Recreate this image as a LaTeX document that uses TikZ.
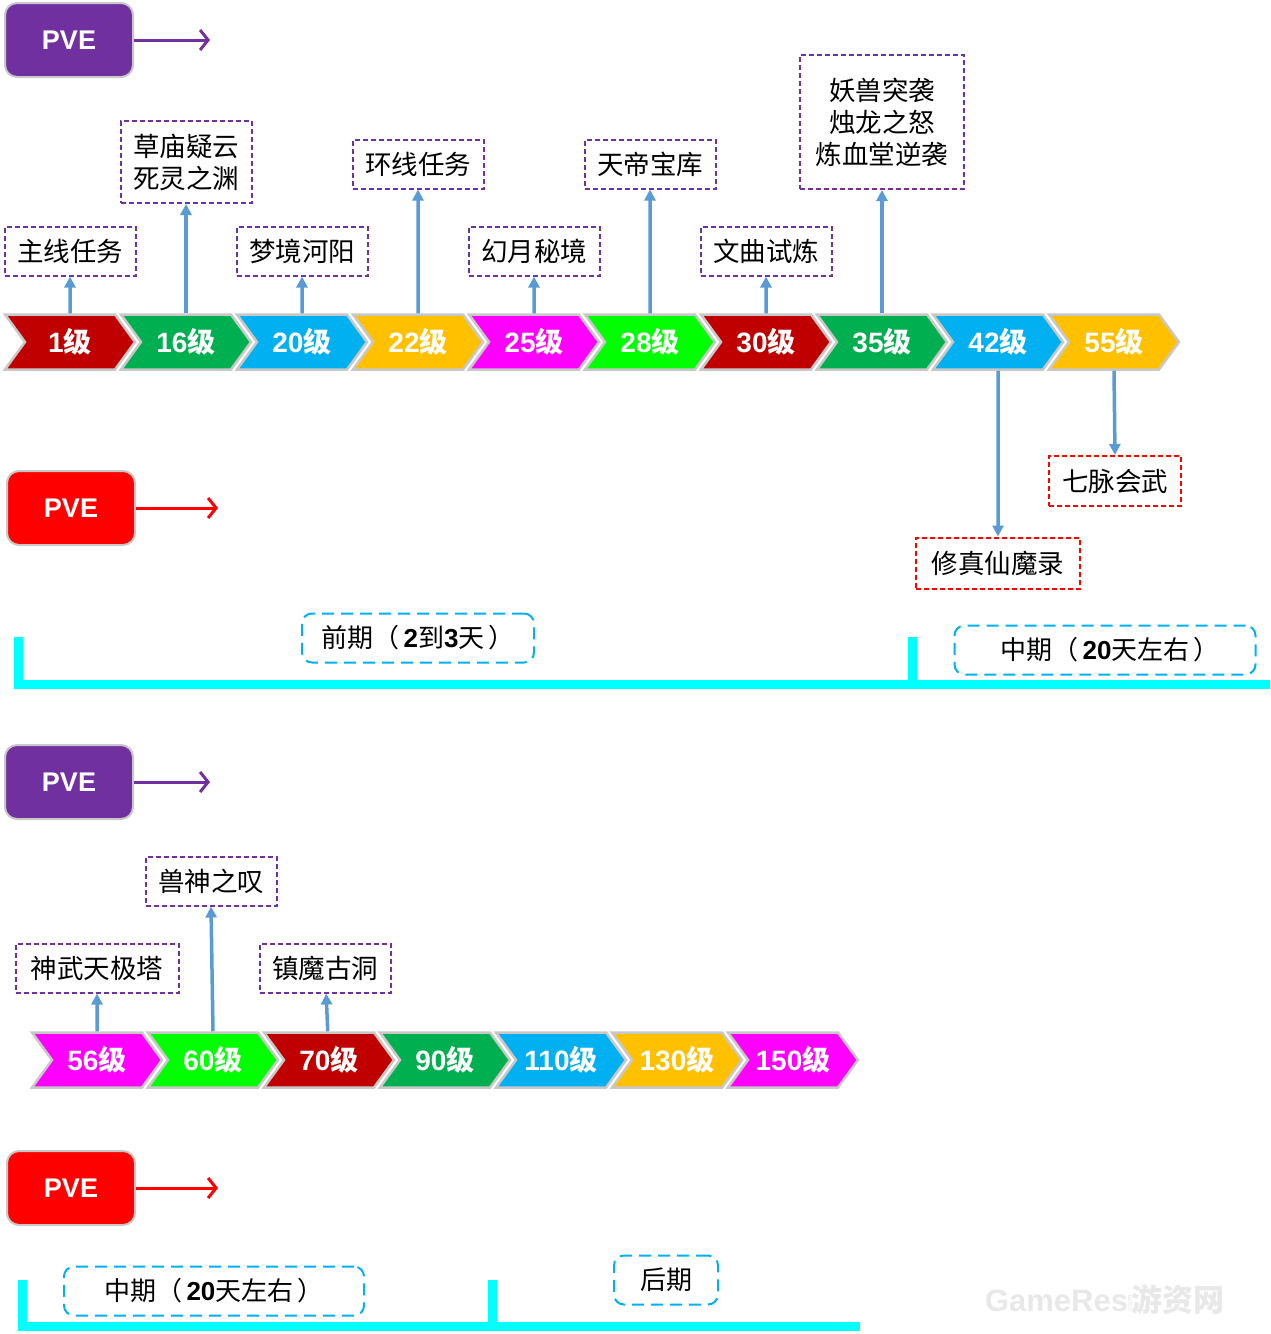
\documentclass[tikz,border=0pt]{standalone}
\usepackage{fontspec}
\setmainfont{Liberation Sans}
\newfontfamily\cjk{Noto Sans CJK SC}
\usepackage{tikz}
\usetikzlibrary{arrows.meta,positioning,shapes.symbols}
\definecolor{PvePurple}{HTML}{7030A0}
\definecolor{PveRed}{HTML}{FF0000}
\definecolor{LvRed}{HTML}{C00000}
\definecolor{LvGreen}{HTML}{00B050}
\definecolor{LvBlue}{HTML}{00B0F0}
\definecolor{LvGold}{HTML}{FFC000}
\definecolor{LvPink}{HTML}{FF00FF}
\definecolor{LvLime}{HTML}{00FF00}
\definecolor{LinkBlue}{HTML}{5B9BD5}
\definecolor{StageCyan}{HTML}{00FFFF}
\definecolor{EdgeGray}{HTML}{C8C8C8}
\newcommand{\lv}[1]{\textbf{#1}{\cjk\bfseries 级}}

\begin{document}
\begin{tikzpicture}[x=1pt, y=-1pt,
  pve/.style={draw=EdgeGray, line width=2pt, rounded corners=12pt,
    minimum width=128pt, minimum height=74pt, text=white,
    font=\fontsize{27}{30}\selectfont\bfseries},
  pvelink/.style={line width=3pt, -{Straight Barb[length=8pt,width=20pt]}},
  lv/.style={signal, signal from=west, signal to=east, signal pointer angle=108,
    draw=EdgeGray, line width=2.5pt, minimum width=130pt, minimum height=55pt,
    inner sep=0pt, text=white, font=\fontsize{28}{30}\selectfont},
  task/.style={draw=PvePurple, dash pattern=on 5pt off 3pt, line width=2pt,
    minimum width=131pt, minimum height=49pt, align=center,
    font=\cjk\fontsize{26.5}{32}\selectfont},
  bonus/.style={task, draw=PveRed},
  stage/.style={draw=LvBlue, dash pattern=on 12pt off 7pt, line width=2pt,
    rounded corners=10pt, minimum height=49pt, font=\fontsize{26}{30}\selectfont},
  link/.style={draw=LinkBlue, line width=3.5pt, -{Triangle[length=11pt,width=11pt]}},
  bracket/.style={draw=StageCyan, line width=9pt}]
  \useasboundingbox (0,0) rectangle (1270,1334);

  % first part
  \node[pve, fill=PvePurple] (p1) at (69,40) {PVE};
  \coordinate (p1end) at (210,40);
  \draw[pvelink, PvePurple] (p1) -- (p1end);

  \node[lv, fill=LvRed] (l1) at (70,342) {\lv{1}};
  \node[lv, fill=LvGreen] (l16) at (186,342) {\lv{16}};
  \node[lv, fill=LvBlue] (l20) at (302,342) {\lv{20}};
  \node[lv, fill=LvGold] (l22) at (418,342) {\lv{22}};
  \node[lv, fill=LvPink] (l25) at (534,342) {\lv{25}};
  \node[lv, fill=LvLime] (l28) at (650,342) {\lv{28}};
  \node[lv, fill=LvRed] (l30) at (766,342) {\lv{30}};
  \node[lv, fill=LvGreen] (l35) at (882,342) {\lv{35}};
  \node[lv, fill=LvBlue] (l42) at (998,342) {\lv{42}};
  \node[lv, fill=LvGold] (l55) at (1114,342) {\lv{55}};

  \node[task] (t1) at (70,251) {主线任务};
  \node[task, minimum height=82pt] (t16) at (186,162) {草庙疑云\\死灵之渊};
  \node[task] (t20) at (302,251) {梦境河阳};
  \node[task] (t22) at (418,164) {环线任务};
  \node[task] (t25) at (534,251) {幻月秘境};
  \node[task] (t28) at (650,164) {天帝宝库};
  \node[task] (t30) at (766,251) {文曲试炼};
  \node[task, minimum width=164pt, minimum height=134pt] (t35) at (882,122)
    {妖兽突袭\\烛龙之怒\\炼血堂逆袭};
  \node[bonus, minimum width=164pt, minimum height=51pt] (b42) at (998,563) {修真仙魔录};
  \node[bonus, minimum width=132pt, minimum height=50pt] (b55) at (1115,481) {七脉会武};

  \draw[link] (l1) -- (t1);
  \draw[link] (l16) -- (t16);
  \draw[link] (l20) -- (t20);
  \draw[link] (l22) -- (t22);
  \draw[link] (l25) -- (t25);
  \draw[link] (l28) -- (t28);
  \draw[link] (l30) -- (t30);
  \draw[link] (l35) -- (t35);
  \draw[link] (l42) -- (b42);
  \draw[link] (l55.south) -- (b55.north);

  \node[pve, fill=PveRed] (p2) at (71,508) {PVE};
  \coordinate (p2end) at (218,508);
  \draw[pvelink, PveRed] (p2) -- (p2end);

  % stages, early and middle
  \draw[bracket] (18,637) -- (18,684) -- (1270,684);
  \draw[bracket] (912,637) -- (912,684);
  \node[stage, minimum width=232pt] (s1) at (418,638)
    {{\cjk 前期（}\,\textbf{2}{\cjk 到}\textbf{3}{\cjk 天}\,{\cjk ）}};
  \node[stage, minimum width=301pt] (s2) at (1105,650)
    {\hspace{10pt}{\cjk 中期（}\,\textbf{20}{\cjk 天左右}\,{\cjk ）}};

  % second part
  \node[pve, fill=PvePurple] (p3) at (69,782) {PVE};
  \coordinate (p3end) at (210,782);
  \draw[pvelink, PvePurple] (p3) -- (p3end);

  \node[lv, fill=LvPink] (m56) at (97,1060) {\lv{56}};
  \node[lv, fill=LvLime] (m60) at (213,1060) {\lv{60}};
  \node[lv, fill=LvRed] (m70) at (329,1060) {\lv{70}};
  \node[lv, fill=LvGreen] (m90) at (445,1060) {\lv{90}};
  \node[lv, fill=LvBlue] (m110) at (561,1060) {\lv{110}};
  \node[lv, fill=LvGold] (m130) at (677,1060) {\lv{130}};
  \node[lv, fill=LvPink] (m150) at (793,1060) {\lv{150}};

  \node[task, minimum width=163pt] (t56) at (97,968) {神武天极塔};
  \node[task] (t60) at (211,881) {兽神之叹};
  \node[task] (t70) at (325,968) {镇魔古洞};

  \draw[link] (m56) -- (t56);
  \draw[link] (m60.north) -- (t60.south);
  \draw[link] (m70) -- (t70);

  \node[pve, fill=PveRed] (p4) at (71,1188) {PVE};
  \coordinate (p4end) at (218,1188);
  \draw[pvelink, PveRed] (p4) -- (p4end);

  % stages, middle and late
  \draw[bracket] (22,1280) -- (22,1326) -- (860,1326);
  \draw[bracket] (492,1280) -- (492,1326);
  \node[stage, minimum width=300pt] (s3) at (214,1291)
    {{\cjk 中期（}\,\textbf{20}{\cjk 天左右}\,{\cjk ）}};
  \node[stage, minimum width=104pt] (s4) at (666,1280) {{\cjk 后期}};

  \node[text=black!9, font=\fontsize{31}{31}\selectfont\bfseries] (mark) at (1105,1300)
    {GameRes\rotatebox{90}{\fontsize{7}{7}\selectfont .com}{\cjk 游资网}};
\end{tikzpicture}
\end{document}
